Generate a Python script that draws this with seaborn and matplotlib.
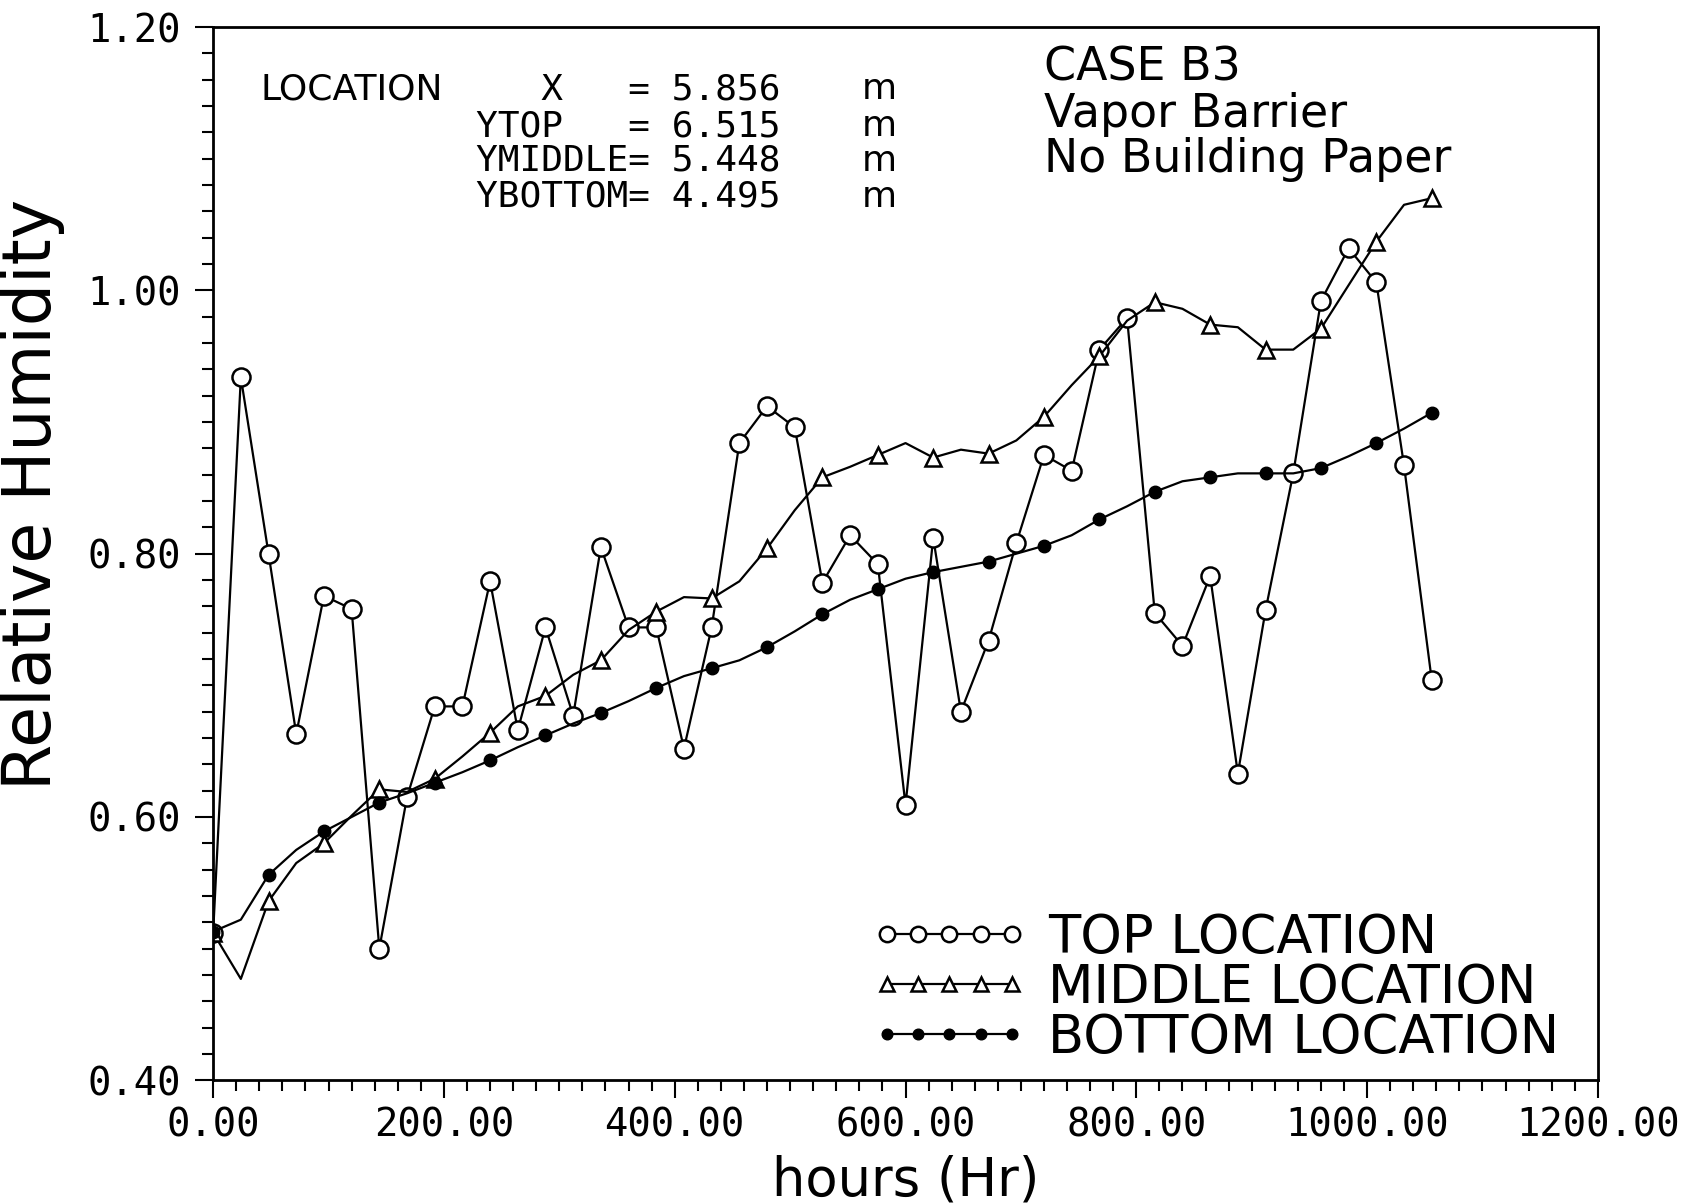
import seaborn as sns
import matplotlib.pyplot as plt
from matplotlib.ticker import MultipleLocator, FormatStrFormatter

# readings every 24 hours
hours = [0, 24, 48, 72, 96, 120, 144, 168, 192, 216, 240, 264, 288, 312, 336,
         360, 384, 408, 432, 456, 480, 504, 528, 552, 576, 600, 624, 648, 672,
         696, 720, 744, 768, 792, 816, 840, 864, 888, 912, 936, 960, 984, 1008,
         1032, 1056]

top_rh = [0.512, 0.934, 0.800, 0.663, 0.768, 0.758, 0.500, 0.615, 0.684, 0.684,
          0.779, 0.666, 0.744, 0.677, 0.805, 0.744, 0.744, 0.652, 0.744, 0.884,
          0.912, 0.896, 0.778, 0.814, 0.792, 0.609, 0.812, 0.680, 0.734, 0.808,
          0.875, 0.863, 0.955, 0.979, 0.755, 0.730, 0.783, 0.633, 0.757, 0.861,
          0.992, 1.032, 1.006, 0.867, 0.704]

middle_rh = [0.512, 0.477, 0.536, 0.565, 0.580, 0.601, 0.621, 0.619, 0.629, 0.646,
             0.664, 0.684, 0.692, 0.708, 0.719, 0.742, 0.756, 0.767, 0.766, 0.779,
             0.804, 0.833, 0.858, 0.866, 0.875, 0.884, 0.873, 0.879, 0.876, 0.886,
             0.904, 0.928, 0.950, 0.977, 0.991, 0.986, 0.974, 0.972, 0.955, 0.955,
             0.971, 1.004, 1.037, 1.065, 1.070]

bottom_rh = [0.513, 0.522, 0.556, 0.575, 0.589, 0.600, 0.611, 0.618, 0.626, 0.634,
             0.643, 0.653, 0.662, 0.671, 0.679, 0.688, 0.698, 0.707, 0.713, 0.719,
             0.729, 0.741, 0.754, 0.765, 0.773, 0.781, 0.786, 0.790, 0.794, 0.800,
             0.806, 0.814, 0.826, 0.836, 0.847, 0.855, 0.858, 0.861, 0.861, 0.861,
             0.865, 0.874, 0.884, 0.895, 0.907]

series_labels = ["TOP LOCATION", "MIDDLE LOCATION", "BOTTOM LOCATION"]

loc_names = ["   X", "YTOP", "YMIDDLE", "YBOTTOM"]
loc_values = ["5.856", "6.515", "5.448", "4.495"]
case_lines = ["CASE B3", "Vapor Barrier", "No Building Paper"]

sns.set_theme(style="ticks")
plt.rcParams['font.family'] = ['DejaVu Sans']
plt.rcParams['text.color'] = 'black'
plt.rcParams['axes.labelcolor'] = 'black'
plt.rcParams['xtick.color'] = 'black'
plt.rcParams['ytick.color'] = 'black'

fig = plt.figure(figsize=(16.97, 12.03), dpi=100)
ax = fig.add_axes([0.1256, 0.102, 0.816, 0.8755])

sns.lineplot(x=hours, y=top_rh, ax=ax, color='black', lw=1.6, sort=False,
             marker='o', markersize=13, markerfacecolor='white',
             markeredgecolor='black', markeredgewidth=1.8, label=series_labels[0])
sns.lineplot(x=hours, y=middle_rh, ax=ax, color='black', lw=1.6, sort=False,
             marker='^', markersize=12, markerfacecolor='white', markevery=2,
             markeredgecolor='black', markeredgewidth=1.8, label=series_labels[1])
sns.lineplot(x=hours, y=bottom_rh, ax=ax, color='black', lw=1.6, sort=False,
             marker='o', markersize=9, markerfacecolor='black', markevery=2,
             markeredgecolor='black', markeredgewidth=1.0, label=series_labels[2])

ax.set_xlim(0, 1200)
ax.set_ylim(0.40, 1.20)
ax.xaxis.set_major_locator(MultipleLocator(200))
ax.xaxis.set_minor_locator(MultipleLocator(20))
ax.yaxis.set_major_locator(MultipleLocator(0.2))
ax.yaxis.set_minor_locator(MultipleLocator(0.02))
ax.xaxis.set_major_formatter(FormatStrFormatter('%.2f'))
ax.yaxis.set_major_formatter(FormatStrFormatter('%.2f'))

ax.tick_params(which='major', direction='out', length=13, width=1.5,
               color='black', labelsize=28, labelcolor='black')
ax.tick_params(which='minor', direction='out', length=8, width=1.5, color='black')
ax.tick_params(axis='y', which='major', pad=10)
ax.tick_params(axis='x', which='major', pad=6)
plt.setp(ax.get_xticklabels() + ax.get_yticklabels(), fontfamily='DejaVu Sans Mono')

for sp in ax.spines.values():
    sp.set_color('black')
    sp.set_linewidth(2)

ax.set_xlabel('hours (Hr)', fontsize=38, color='black')
ax.set_ylabel('Relative Humidity', fontsize=48, color='black')
ax.xaxis.set_label_coords(0.5, -0.07)
ax.yaxis.set_label_coords(-0.107, 0.556)

# location block
ax.text(0.034, 0.941, 'LOCATION', transform=ax.transAxes, fontsize=26,
        va='center', ha='left', color='black')
row_y = [0.941, 0.906, 0.873, 0.839]
for name, val, y in zip(loc_names, loc_values, row_y):
    ax.text(0.190, y, f"{name:<7}= {val}", transform=ax.transAxes, color='black',
            fontsize=26, family='DejaVu Sans Mono', va='center', ha='left')
    ax.text(0.481, y, 'm', transform=ax.transAxes, fontsize=26,
            va='center', ha='center', color='black')

case_y = [0.961, 0.917, 0.874]
for line, y in zip(case_lines, case_y):
    ax.text(0.600, y, line, transform=ax.transAxes, fontsize=33,
            va='center', ha='left', color='black')

handles, labels = ax.get_legend_handles_labels()
leg = ax.legend(handles, labels, loc='upper left', bbox_to_anchor=(0.475, 0.16),
                frameon=False, numpoints=5, handlelength=2.97, handletextpad=0.39,
                labelspacing=-0.04, fontsize=38, markerscale=0.85, borderaxespad=0,
                borderpad=0)
for t in leg.get_texts():
    t.set_color('black')

fig.savefig('out.png', dpi=100, facecolor='white')
